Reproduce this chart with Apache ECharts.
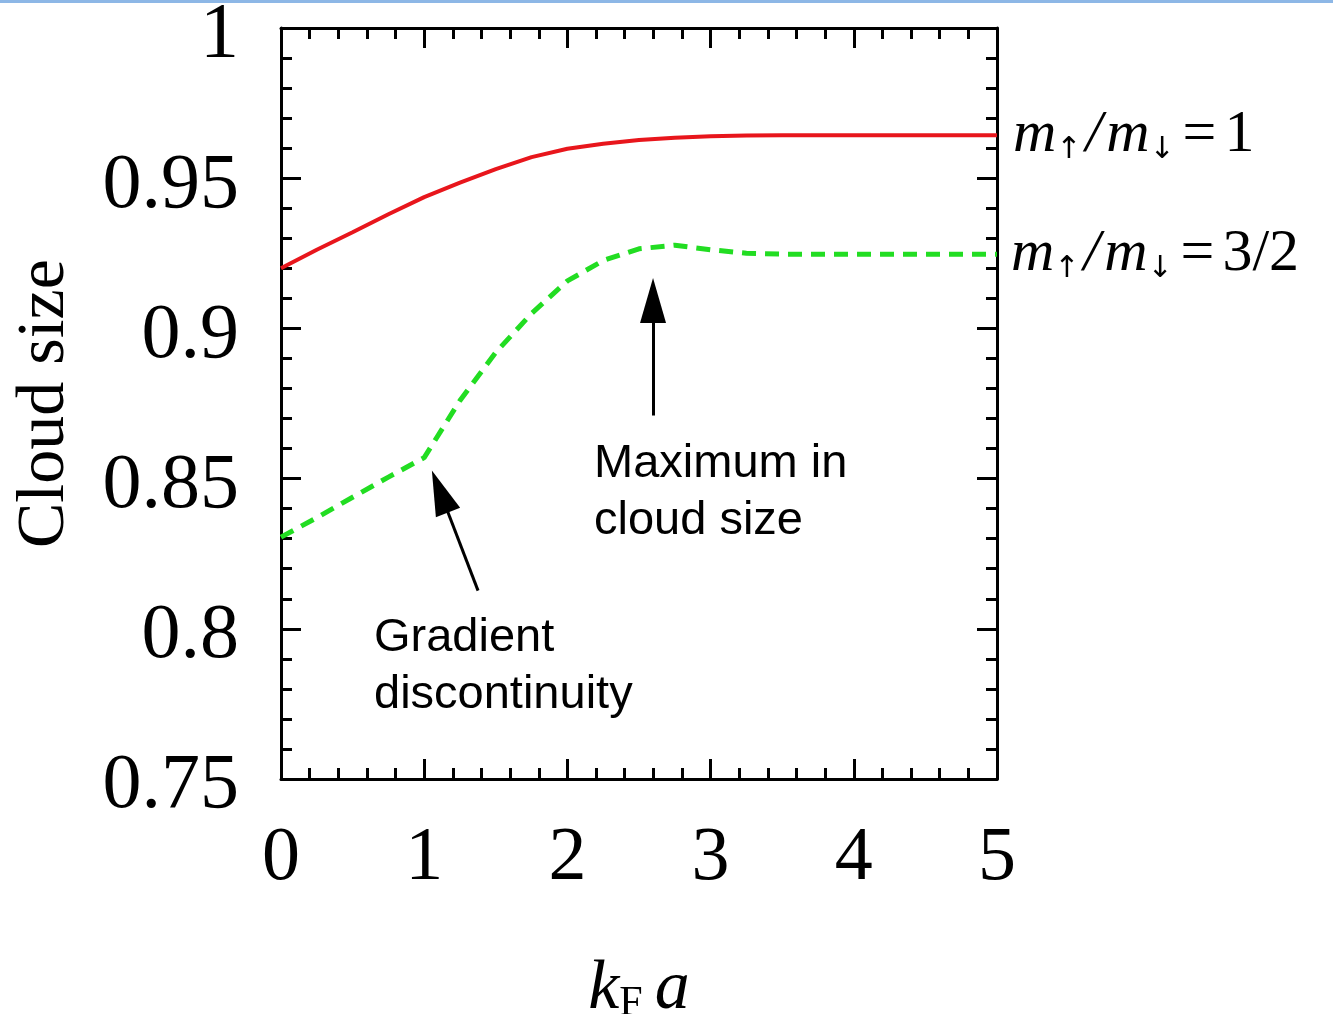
<!DOCTYPE html>
<html>
<head>
<meta charset="utf-8">
<script src="https://cdn.jsdelivr.net/npm/echarts@6/dist/echarts.min.js"></script>
<style>
html,body{margin:0;padding:0;background:#fff;}
#chart{width:1333px;height:1014px;}
</style>
</head>
<body>
<div id="chart"></div>
<script>
// ---- data ----
var kFa = [0, 0.25, 0.5, 0.75, 1.0, 1.25, 1.5, 1.75, 2.0, 2.25, 2.5, 2.75, 3.0, 3.25, 3.5, 4.0, 4.5, 5.0];
var ratio1 = [0.920, 0.9262, 0.932, 0.938, 0.9437, 0.9485, 0.953, 0.957, 0.9598, 0.9615, 0.9627, 0.9635, 0.964, 0.9642, 0.9643, 0.9643, 0.9643, 0.9643];
var ratio32 = [0.8305, 0.837, 0.8438, 0.8505, 0.857, 0.876, 0.892, 0.905, 0.9158, 0.9226, 0.9265, 0.9277, 0.9262, 0.925, 0.9247, 0.9247, 0.9247, 0.9247];
var xTickLabels = ['0', '1', '2', '3', '4', '5'];
var yTickLabels = ['0.75', '0.8', '0.85', '0.9', '0.95', '1'];
var seriesNames = ['m↑/m↓=1', 'm↑/m↓=3/2'];
// annotation arrows: [tail, head-centre] in data coords
var arrowMax = [[2.598, 0.871], [2.598, 0.9093]];
var arrowGrad = [[1.376, 0.8127], [1.110, 0.8457]];

var chart = echarts.init(document.getElementById('chart'));
var serif = 'Liberation Serif';
var richLbl = {
  mi: {fontFamily: serif, fontStyle: 'italic', fontSize: 60, color: '#000'},
  sl: {fontFamily: serif, fontStyle: 'italic', fontSize: 60, color: '#000', padding: [0, 4, 0, 2]},
  ar: {fontFamily: 'DejaVu Sans', fontSize: 30, color: '#000', verticalAlign: 'bottom', padding: [0, 2, 0, 0]},
  n: {fontFamily: serif, fontSize: 60, color: '#000'},
  eq: {fontFamily: serif, fontSize: 60, color: '#000', padding: [0, 8, 0, 6]}
};
function ratioLabel(t) {
  return '{mi|m}{ar|↑}{sl|/}{mi|m}{ar|↓}{eq|=}{n|' + t + '}';
}
function xAxisDef(pos, showLabel) {
  return {
    type: 'value', position: pos, min: 0, max: 5, interval: 1,
    axisLine: {show: true, onZero: false, lineStyle: {color: '#000', width: 3}},
    axisTick: {show: true, inside: true, length: 20, lineStyle: {color: '#000', width: 3}},
    minorTick: {show: true, splitNumber: 5, length: 11, lineStyle: {color: '#000', width: 3}},
    splitLine: {show: false},
    axisLabel: {show: showLabel, fontFamily: serif, fontSize: 76, color: '#000', margin: 42,
      formatter: function (v) { return xTickLabels[Math.round(v)]; }},
    name: showLabel ? '{i|k}{s|F}{i|a}' : '',
    nameLocation: 'middle', nameGap: 176,
    nameTextStyle: {rich: {
      i: {fontFamily: serif, fontStyle: 'italic', fontSize: 70, color: '#000'},
      s: {fontFamily: serif, fontSize: 42, color: '#000', verticalAlign: 'bottom', padding: [0, 12, 0, 0]}
    }}
  };
}
function yAxisDef(pos, showLabel) {
  return {
    type: 'value', position: pos, min: 0.75, max: 1, interval: 0.05,
    axisLine: {show: true, onZero: false, lineStyle: {color: '#000', width: 3}},
    axisTick: {show: true, inside: true, length: 20, lineStyle: {color: '#000', width: 3}},
    minorTick: {show: true, splitNumber: 5, length: 11, lineStyle: {color: '#000', width: 3}},
    splitLine: {show: false},
    axisLabel: {show: showLabel, color: '#000', margin: 42,
      formatter: function (v) { return '{sp| }\n{t|' + yTickLabels[Math.round((v - 0.75) / 0.05)] + '}'; },
      rich: {
        sp: {fontSize: 2, lineHeight: 16},
        t: {fontFamily: serif, fontSize: 78, lineHeight: 78, color: '#000'}
      }},
    name: showLabel ? 'Cloud size' : '',
    nameLocation: 'middle', nameGap: 202, nameRotate: 90,
    nameTextStyle: {fontFamily: serif, fontSize: 68, color: '#000'}
  };
}
function pairs(xs, ys) { return xs.map(function (x, i) { return [x, ys[i]]; }); }

chart.setOption({
  animation: false,
  backgroundColor: '#fff',
  grid: {left: 281, right: 336, top: 28, bottom: 235, outerBoundsMode: 'none', containLabel: false},
  xAxis: [xAxisDef('bottom', true), xAxisDef('top', false)],
  yAxis: [yAxisDef('left', true), yAxisDef('right', false)],
  series: [
    {
      name: seriesNames[0], type: 'line', xAxisIndex: 0, yAxisIndex: 0,
      data: pairs(kFa, ratio1), showSymbol: false, smooth: false,
      lineStyle: {color: '#e8161c', width: 4}, itemStyle: {color: '#e8161c'},
      endLabel: {show: true, distance: 16, formatter: function () { return ratioLabel('1'); }, rich: richLbl},
      z: 3
    },
    {
      name: seriesNames[1], type: 'line', xAxisIndex: 0, yAxisIndex: 0,
      data: pairs(kFa, ratio32), showSymbol: false, smooth: false,
      lineStyle: {color: '#22dd22', width: 5, type: [14, 9]}, itemStyle: {color: '#22dd22'},
      endLabel: {show: true, distance: 14, formatter: function () { return ratioLabel('3/2'); }, rich: richLbl},
      markLine: {
        silent: true, animation: false,
        symbol: ['none', 'triangle'], symbolSize: [26, 45],
        label: {show: false},
        lineStyle: {color: '#000', width: 3, type: 'solid'},
        itemStyle: {color: '#000'},
        data: [
          [{coord: arrowMax[0]}, {coord: arrowMax[1]}],
          [{coord: arrowGrad[0]}, {coord: arrowGrad[1]}]
        ]
      },
      z: 3
    }
  ],
  graphic: [
    {type: 'rect', left: 0, top: 0, shape: {width: 1333, height: 3}, style: {fill: '#8db7e6'}},
    {type: 'text', left: 594, top: 436, style: {text: 'Maximum in\ncloud size', fontFamily: 'Liberation Sans', fontSize: 47, lineHeight: 57, fill: '#000'}},
    {type: 'text', left: 374, top: 610, style: {text: 'Gradient\ndiscontinuity', fontFamily: 'Liberation Sans', fontSize: 47, lineHeight: 57, fill: '#000'}}
  ]
});
</script>
</body>
</html>
